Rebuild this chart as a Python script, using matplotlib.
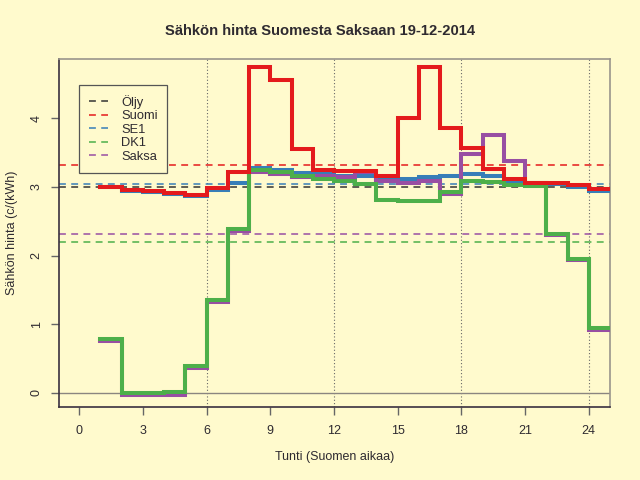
import matplotlib
matplotlib.use("Agg")
import matplotlib.pyplot as plt
import numpy as np

hours = list(range(1, 25))
suomi = [3.00, 2.96, 2.94, 2.91, 2.88, 2.98, 3.21, 4.74, 4.55, 3.55, 3.25, 3.23,
         3.23, 3.16, 4.00, 4.74, 3.86, 3.56, 3.26, 3.12, 3.06, 3.06, 3.02, 2.97]
se1 = [2.99, 2.94, 2.92, 2.89, 2.87, 2.96, 3.06, 3.27, 3.24, 3.20, 3.18, 3.16,
       3.15, 3.12, 3.12, 3.14, 3.16, 3.19, 3.15, 3.09, 3.05, 3.04, 3.00, 2.94]
dk1 = [0.78, 0.00, 0.00, 0.01, 0.39, 1.35, 2.38, 3.24, 3.22, 3.16, 3.11, 3.09,
       3.04, 2.81, 2.79, 2.80, 2.93, 3.08, 3.07, 3.03, 3.01, 2.32, 1.95, 0.94]
saksa = [0.76, -0.03, -0.03, -0.03, 0.37, 1.32, 2.36, 3.21, 3.18, 3.14, 3.16, 3.14,
         3.21, 3.08, 3.06, 3.08, 2.89, 3.47, 3.76, 3.37, 3.06, 2.30, 1.93, 0.92]

# reference (average) levels drawn as dashed lines
levels = {"Öljy": 2.99, "Suomi": 3.32, "SE1": 3.04, "DK1": 2.19, "Saksa": 2.31}
names = ["Öljy", "Suomi", "SE1", "DK1", "Saksa"]
colors = {"Öljy": "#333333", "Suomi": "#E41A1C", "SE1": "#377EB8",
          "DK1": "#4DAF4A", "Saksa": "#984EA3"}

xticks = [0, 3, 6, 9, 12, 15, 18, 21, 24]
yticks = [0, 1, 2, 3, 4]
vlines = [6, 12, 18, 24]

bg = "#FFFACD"
txt = "#2e2a30"
plt.rcParams['font.family'] = ['Liberation Sans', 'DejaVu Sans']

fig = plt.figure(figsize=(6.4, 4.8), dpi=100, facecolor=bg)
ax = fig.add_axes([59.3/640, 1-406.7/480, (610-59.3)/640, (406.7-59.3)/480])
ax.set_facecolor(bg)

ax.set_xlim(-0.94, 25.0)
ax.set_ylim(-0.2, 4.855)

for v in vlines:
    ax.axvline(v, color="#666666", lw=0.8, ls=(0, (1, 2)), zorder=1)
ax.axhline(0, color="#8a8580", lw=1.0, zorder=1)

dash = (0, (4.5, 3.5))
for n in names:
    ax.axhline(levels[n], color=colors[n], lw=1.1, ls=dash, zorder=2)

x_step = hours + [25]
series = {"SE1": se1, "Saksa": saksa, "DK1": dk1, "Suomi": suomi}
for n in ["SE1", "Saksa", "DK1", "Suomi"]:
    vals = series[n]
    ax.step(x_step, vals + [vals[-1]], where='post', color=colors[n], lw=2.9,
            zorder=3, solid_joinstyle='miter')

ax.set_xticks(xticks)
ax.set_yticks(yticks)
ax.tick_params(axis='both', direction='out', length=6, width=1, color="#666666",
               labelcolor=txt, labelsize=9.0)
ax.tick_params(axis='x', pad=7)
ax.tick_params(axis='y', pad=6)
for lab in ax.get_yticklabels():
    lab.set_rotation(90)
    lab.set_va('center')

for s in ["top", "right"]:
    ax.spines[s].set_color("#9a958c")
    ax.spines[s].set_linewidth(1.2)
for s in ["left", "bottom"]:
    ax.spines[s].set_color("#3a3040")
    ax.spines[s].set_linewidth(1.2)

ax.set_xlabel("Tunti (Suomen aikaa)", fontsize=9.0, color=txt, labelpad=10)
ax.set_ylabel("Sähkön hinta (c/(kWh)", fontsize=9.0, color=txt, labelpad=9)
fig.text(0.5, 1-31/480, "Sähkön hinta Suomesta Saksaan 19-12-2014",
         ha='center', va='center', fontsize=10.6, fontweight='bold', color=txt)

handles = [plt.Line2D([], [], color=colors[n], lw=1.1, ls=dash) for n in names]
leg = ax.legend(handles, names, loc='upper left', bbox_to_anchor=(0.0358, 0.926),
                borderaxespad=0, frameon=True, fancybox=False, fontsize=9.3,
                handlelength=1.5, handletextpad=1.0, labelspacing=0.12,
                borderpad=0.75, labelcolor=txt)
leg.get_frame().set_facecolor(bg)
leg.get_frame().set_edgecolor("#555555")
leg.get_frame().set_linewidth(0.9)
leg.get_frame().set_alpha(1)
leg.set_zorder(5)

fig.savefig("out.png", dpi=100, facecolor=bg)
